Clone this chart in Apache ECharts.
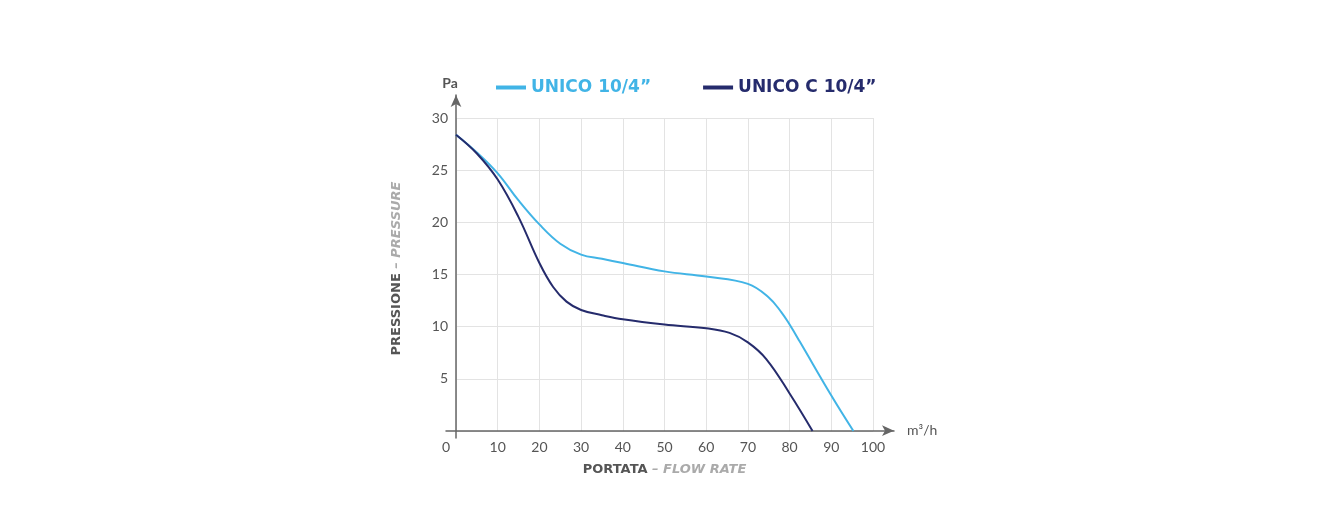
<!DOCTYPE html>
<html lang="it">
<head>
    <meta charset="UTF-8">
    <title>UNICO - curva portata/pressione</title>
    <style>
        html, body {
            margin: 0;
            padding: 0;
            width: 100%;
            height: 100%;
            background: #fff;
            overflow: hidden;
        }
        #chart {
            width: 1338px;
            height: 530px;
        }
    </style>
</head>
<body>
    <div id="chart"></div>

<script type="text/javascript" src="https://cdn.jsdelivr.net/npm/echarts@6/dist/echarts.min.js"></script>
<script type="text/javascript">

    // dati
    var seriesNames = ['UNICO 10/4”', 'UNICO C 10/4”'];
    var flowUnico = [0, 5, 10, 15, 20, 25, 30, 35, 40, 50, 60, 70, 75, 78, 80, 82.4, 90, 95.3];
    var pressUnico = [28.4, 26.7, 24.7, 22.1, 19.8, 17.95, 16.9, 16.5, 16.1, 15.3, 14.8, 14.1, 12.8, 11.4, 10.2, 8.6, 3.4, 0];
    var flowUnicoC = [0, 5, 10, 15, 20, 23.3, 26.5, 30, 35, 40, 50, 60, 65.6, 70, 74.4, 80, 85.5];
    var pressUnicoC = [28.4, 26.6, 24.1, 20.5, 16.1, 13.8, 12.4, 11.6, 11.1, 10.7, 10.2, 9.85, 9.4, 8.5, 6.9, 3.6, 0];
    var xTicks = [0, 10, 20, 30, 40, 50, 60, 70, 80, 90, 100];
    var yTicks = [0, 5, 10, 15, 20, 25, 30];

    var lightBlue = '#41b4e6';
    var darkBlue = '#252b6c';
    var axisGrey = '#666666';
    var font = 'Lato, "Open Sans", sans-serif';
    var titleFont = '"DejaVu Sans", sans-serif';

    function pairs(xs, ys) {
        return xs.map(function (x, i) { return [x, ys[i]]; });
    }

    var chart = echarts.init(document.getElementById('chart'));

    var option = {
        animation: false,
        backgroundColor: '#fff',
        textStyle: { fontFamily: font },
        legend: {
            left: 491,
            top: 74,
            itemWidth: 30,
            itemHeight: 4,
            itemGap: 52,
            icon: 'rect',
            textStyle: { fontSize: 17, fontWeight: 'bold', fontFamily: titleFont },
            data: [
                { name: seriesNames[0], textStyle: { color: lightBlue } },
                { name: seriesNames[1], textStyle: { color: darkBlue } }
            ]
        },
        grid: [
            // area dati
            { left: 456, right: 465, top: 118, bottom: 99, containLabel: false },
            // solo per gli assi con freccia
            { left: 446, right: 444, top: 95, bottom: 92, containLabel: false }
        ],
        xAxis: [{
            type: 'value',
            gridIndex: 0,
            min: xTicks[0],
            max: xTicks[xTicks.length - 1],
            interval: 10,
            axisLine: { show: false },
            axisTick: { show: false },
            splitLine: { lineStyle: { color: '#e3e3e3', width: 1 } },
            axisLabel: {
                color: '#555',
                fontSize: 14,
                margin: 9,
                fontFamily: font,
                formatter: function (v) {
                    return v === 0 ? '{z|0}' : String(v);
                },
                rich: {
                    z: { fontSize: 14, color: '#555', padding: [0, 20, 0, 0] }
                }
            },
            name: '{a|PORTATA }{b|– FLOW RATE}',
            nameLocation: 'middle',
            nameGap: 32,
            nameTextStyle: {
                rich: {
                    a: { fontSize: 13, fontWeight: 'bold', color: '#555', fontFamily: titleFont },
                    b: { fontSize: 13, fontWeight: 'bold', fontStyle: 'italic', color: '#aaa', fontFamily: titleFont }
                }
            }
        }, {
            type: 'value',
            gridIndex: 1,
            min: -2.4,
            max: 105,
            axisLine: {
                onZero: true,
                lineStyle: { color: axisGrey, width: 1.5 },
                symbol: ['none', 'arrow'],
                symbolSize: [8, 12]
            },
            axisTick: { show: false },
            axisLabel: { show: false },
            splitLine: { show: false },
            name: 'm³/h',
            nameLocation: 'end',
            nameGap: 13,
            nameTextStyle: { color: '#555', fontSize: 14, fontFamily: font, padding: [0, 0, 14, 0] }
        }],
        yAxis: [{
            type: 'value',
            gridIndex: 0,
            min: yTicks[0],
            max: yTicks[yTicks.length - 1],
            interval: 5,
            axisLine: { show: false },
            axisTick: { show: false },
            splitLine: { lineStyle: { color: '#e3e3e3', width: 1 } },
            axisLabel: {
                color: '#555',
                fontSize: 14,
                margin: 8,
                fontFamily: font,
                formatter: function (v) { return v === 0 ? '' : String(v); }
            },
            name: '{a|PRESSIONE }{b|– PRESSURE}',
            nameLocation: 'middle',
            nameGap: 53,
            nameTextStyle: {
                padding: [0, 0, 0, 12],
                rich: {
                    a: { fontSize: 13, fontWeight: 'bold', color: '#555', fontFamily: titleFont },
                    b: { fontSize: 13, fontWeight: 'bold', fontStyle: 'italic', color: '#aaa', fontFamily: titleFont }
                }
            }
        }, {
            type: 'value',
            gridIndex: 1,
            min: -0.7,
            max: 32.2,
            axisLine: {
                onZero: true,
                lineStyle: { color: axisGrey, width: 1.5 },
                symbol: ['none', 'arrow'],
                symbolSize: [8, 12]
            },
            axisTick: { show: false },
            axisLabel: { show: false },
            splitLine: { show: false },
            name: 'Pa',
            nameLocation: 'end',
            nameGap: 5,
            nameTextStyle: { color: '#555', fontSize: 14, fontWeight: 'bold', fontFamily: font, padding: [0, 12, 0, 0] }
        }],
        series: [{
            name: seriesNames[0],
            type: 'line',
            xAxisIndex: 0,
            yAxisIndex: 0,
            smooth: 0.4,
            showSymbol: false,
            color: lightBlue,
            lineStyle: { width: 2, color: lightBlue },
            data: pairs(flowUnico, pressUnico),
            z: 3
        }, {
            name: seriesNames[1],
            type: 'line',
            xAxisIndex: 0,
            yAxisIndex: 0,
            smooth: 0.4,
            showSymbol: false,
            color: darkBlue,
            lineStyle: { width: 2, color: darkBlue },
            data: pairs(flowUnicoC, pressUnicoC),
            z: 4
        }]
    };

    chart.setOption(option);

</script>
</body>
</html>
